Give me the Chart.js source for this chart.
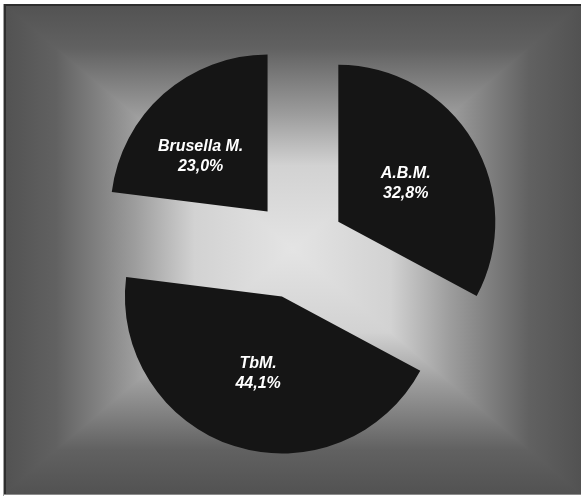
<!DOCTYPE html>
<html>
<head>
<meta charset="utf-8">
<script src="https://cdn.jsdelivr.net/npm/chart.js@4"></script>
<style>
  html, body { margin: 0; padding: 0; background: #fff; }
  #wrap { width: 581px; height: 498px; }
</style>
</head>
<body>
<div id="wrap"><canvas id="pie" width="581" height="498"></canvas></div>
<script>
/* ─── data ─── */
const labels = ['A.B.M.', 'TbM.', 'Brusella M.'];
const shares = [32.8, 44.1, 23.0];

/* ─── style ─── */
const SLICE = '#151515';
const explode = [47, 53, 46];          // px, pulled out along mid-angle
const labelNudge = [[0, 2], [0, 2], [-15, 4]];

const fmt = (v) => v.toFixed(1).replace('.', ',') + '%';

// Excel-like "from center" rectangle gradient behind the plot
const panelBg = {
  id: 'panelBg',
  beforeDraw(chart) {
    const ctx = chart.ctx;
    const x0 = 4, y0 = 4, x1 = 581, y1 = 494;
    const cx = (x0 + x1) / 2, cy = (y0 + y1) / 2;
    const stops = [[0, '#525252'], [0.18, '#616161'], [0.45, '#9c9c9c'], [0.66, '#d2d2d2'], [1, '#e4e4e4']];
    ctx.save();
    ctx.fillStyle = '#fff';
    ctx.fillRect(0, 0, chart.width, chart.height);
    ctx.fillStyle = '#8a8a8a';
    ctx.fillRect(x0, y0, x1 - x0, y1 - y0);
    const tris = [
      [[x0, y0], [x1, y0], [x0, y0, x0, cy]],
      [[x1, y1], [x0, y1], [x0, y1, x0, cy]],
      [[x0, y0], [x0, y1], [x0, y0, cx, y0]],
      [[x1, y0], [x1, y1], [x1, y0, cx, y0]],
    ];
    tris.forEach(([a, b, g]) => {
      const grad = ctx.createLinearGradient(g[0], g[1], g[2], g[3]);
      stops.forEach(([t, c]) => grad.addColorStop(t, c));
      ctx.beginPath();
      ctx.moveTo(a[0], a[1]);
      ctx.lineTo(b[0], b[1]);
      ctx.lineTo(cx, cy);
      ctx.closePath();
      ctx.fillStyle = grad;
      ctx.strokeStyle = grad;
      ctx.lineWidth = 1.5;
      ctx.fill();
      ctx.stroke();
    });
    // frame
    ctx.fillStyle = '#fff';
    ctx.fillRect(0, y1 + 1, chart.width, chart.height - y1);
    ctx.fillRect(0, 0, x0 - 1, chart.height);
    ctx.fillRect(0, 0, chart.width, y0);
    ctx.fillStyle = '#2e2e2e';
    ctx.fillRect(x0, y0, x1 - x0, 2);
    ctx.fillRect(x0, y0, 2, y1 - y0);
    ctx.fillStyle = '#a0a0a0';
    ctx.fillRect(3, y0, 1, y1 - y0 + 2);
    ctx.fillStyle = '#8c8c8c';
    ctx.fillRect(x0, y1, x1 - x0, 1);
    ctx.restore();
  },
};

// pull slices out without growing their radius
const explodeSlices = {
  id: 'explodeSlices',
  afterDatasetUpdate(chart, args) {
    args.meta.data.forEach((el, i) => {
      const mid = (el.startAngle + el.endAngle) / 2;
      el.x += Math.cos(mid) * explode[i];
      el.y += Math.sin(mid) * explode[i];
    });
  },
};

const sliceLabels = {
  id: 'sliceLabels',
  afterDatasetsDraw(chart) {
    const ctx = chart.ctx;
    const meta = chart.getDatasetMeta(0);
    ctx.save();
    ctx.fillStyle = '#ffffff';
    ctx.font = "italic bold 16px 'Liberation Sans', Arial, sans-serif";
    ctx.textAlign = 'center';
    ctx.textBaseline = 'middle';
    meta.data.forEach((el, i) => {
      const p = el.getCenterPoint();
      const x = p.x + labelNudge[i][0];
      const y = p.y + labelNudge[i][1];
      ctx.fillText(labels[i], x, y - 10);
      ctx.fillText(fmt(shares[i]), x, y + 10);
    });
    ctx.restore();
  },
};

new Chart(document.getElementById('pie'), {
  type: 'pie',
  data: {
    labels,
    datasets: [{
      data: shares,
      backgroundColor: SLICE,
      borderWidth: 0,
      offset: 0,
    }],
  },
  options: {
    responsive: false,
    animation: false,
    devicePixelRatio: 1,
    layout: { padding: { left: 141, right: 126, top: 89, bottom: 95 } },
    plugins: {
      legend: { display: false },
      tooltip: { enabled: false },
    },
  },
  plugins: [panelBg, explodeSlices, sliceLabels],
});
</script>
</body>
</html>
